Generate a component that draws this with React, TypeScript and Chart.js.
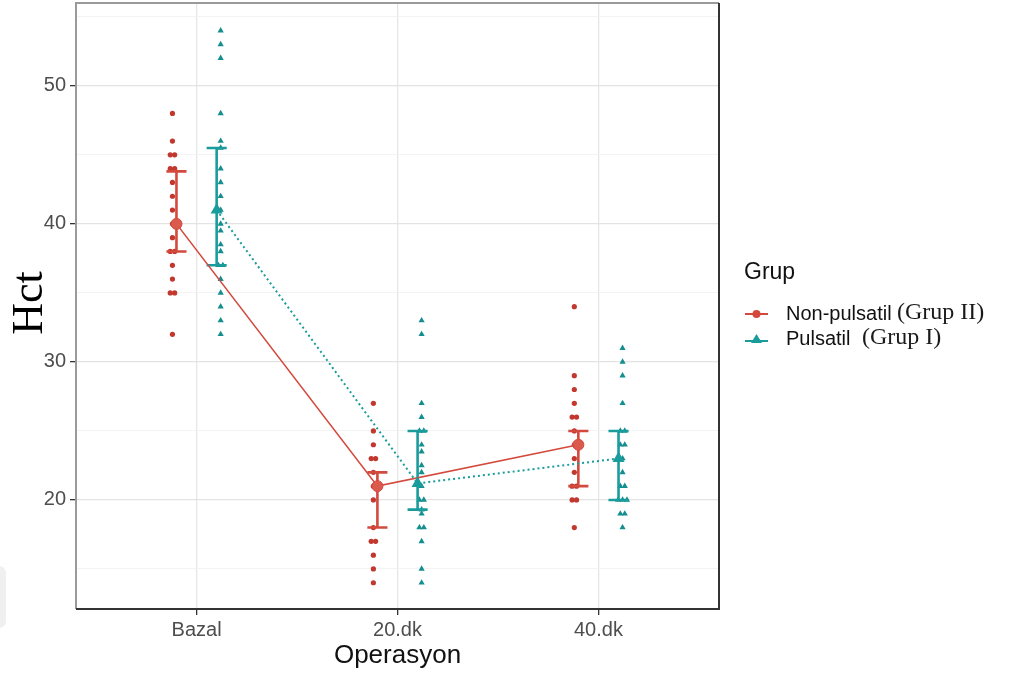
import React, { useEffect, useRef } from "react";
import { Chart, registerables } from "chart.js";

Chart.register(...registerables);

const categories = ["Bazal", "20.dk", "40.dk"];
const yTicks = [15, 20, 25, 30, 35, 40, 45, 50, 55];

// Non-pulsatil (Grup II) individual values
const nonPulsatilBazal = [48, 46, 45, 45, 44, 44, 43, 42, 41, 40, 39, 38, 38, 37, 36, 35, 35, 32];
const nonPulsatil20 = [27, 25, 24, 23, 23, 22, 21, 20, 18, 17, 17, 16, 15, 14];
const nonPulsatil40 = [34, 29, 28, 27, 26, 26, 25, 24, 23, 22, 21, 21, 20, 20, 18];

// Pulsatil (Grup I) individual values
const pulsatilBazal = [54, 53, 52, 48, 46, 45.5, 44, 43, 42, 41, 40, 39.5, 38.5, 38, 37, 37, 36, 35, 34, 33, 32];
const pulsatil20 = [33, 32, 27, 26, 25, 25, 24, 23.5, 22.5, 22, 21, 20, 20, 19.3, 19, 18, 18, 17, 15, 14];
const pulsatil40 = [31, 30, 29, 27, 25, 25, 24, 24, 23, 22, 21, 21, 20, 20, 20, 19, 19, 18];

// Summary (centre and error bar limits)
const nonPulsatilMean = [40, 21, 24];
const nonPulsatilLow = [38, 18, 21];
const nonPulsatilHigh = [43.8, 22, 25];
const pulsatilMean = [41, 21.2, 23];
const pulsatilLow = [37, 19.3, 20];
const pulsatilHigh = [45.5, 25, 25];

const RED_RAW = "#C2372E";
const RED = "#D4493D";
const TEAL_RAW = "#148E8F";
const TEAL = "#1A9C9D";

// canvas is shifted up by DY px inside the page
const DY = 4;

function rawPoints(groups: number[][], offset: number) {
  const pts: { x: number; y: number }[] = [];
  groups.forEach((vals, i) => {
    const counts: Record<string, number> = {};
    vals.forEach((v) => (counts[v] = (counts[v] || 0) + 1));
    const seen: Record<string, number> = {};
    vals.forEach((v) => {
      const n = counts[v];
      const k = seen[v] || 0;
      seen[v] = k + 1;
      const spread = (k - (n - 1) / 2) * 0.022;
      pts.push({ x: i + offset + spread, y: v });
    });
  });
  return pts;
}

function errorBarPoints(low: number[], high: number[], offset: number, cap: number) {
  const pts: { x: number; y: number | null }[] = [];
  low.forEach((lo, i) => {
    const x = i + offset;
    const hi = high[i];
    pts.push({ x, y: lo }, { x, y: hi }, { x, y: null });
    pts.push({ x: x - cap, y: hi }, { x: x + cap, y: hi }, { x, y: null });
    pts.push({ x: x - cap, y: lo }, { x: x + cap, y: lo }, { x, y: null });
  });
  return pts;
}

function meanPoints(means: number[], offset: number) {
  return means.map((m, i) => ({ x: i + offset, y: m }));
}

const decorPlugin = {
  id: "decor",
  beforeDraw(chart: any) {
    const ctx = chart.ctx;
    ctx.save();
    ctx.fillStyle = "#F0F0F0";
    ctx.beginPath();
    if (ctx.roundRect) ctx.roundRect(-10, 566 + DY, 16, 62, 7);
    else ctx.rect(-10, 566 + DY, 16, 62);
    ctx.fill();
    ctx.restore();
  },
  afterDraw(chart: any) {
    const ctx = chart.ctx;
    const a = chart.chartArea;
    ctx.save();
    // panel border
    ctx.lineWidth = 2;
    ctx.strokeStyle = "#9A9A9A";
    ctx.beginPath();
    ctx.moveTo(a.left, a.bottom);
    ctx.lineTo(a.left, a.top);
    ctx.lineTo(a.right, a.top);
    ctx.stroke();
    ctx.strokeStyle = "#333333";
    ctx.beginPath();
    ctx.moveTo(a.right, a.top);
    ctx.lineTo(a.right, a.bottom);
    ctx.lineTo(a.left, a.bottom);
    ctx.stroke();

    // axis titles
    ctx.fillStyle = "#111111";
    ctx.font = '26px "Liberation Sans", Arial, sans-serif';
    ctx.textAlign = "center";
    ctx.textBaseline = "middle";
    ctx.fillText("Operasyon", (a.left + a.right) / 2, 656 + DY);

    ctx.save();
    ctx.translate(30, 303 + DY);
    ctx.rotate(-Math.PI / 2);
    ctx.font = '44px "Liberation Serif", "Times New Roman", serif';
    ctx.fillStyle = "#000000";
    ctx.fillText("Hct", 0, 0);
    ctx.restore();

    // legend
    ctx.textAlign = "left";
    ctx.fillStyle = "#111111";
    ctx.font = '23px "Liberation Sans", Arial, sans-serif';
    ctx.fillText("Grup", 744, 273 + DY);

    // key 1
    const y1 = 314 + DY;
    ctx.strokeStyle = RED;
    ctx.lineWidth = 2;
    ctx.beginPath();
    ctx.moveTo(745, y1);
    ctx.lineTo(768, y1);
    ctx.stroke();
    ctx.fillStyle = RED;
    ctx.beginPath();
    ctx.arc(756.5, y1, 4, 0, Math.PI * 2);
    ctx.fill();
    // key 2
    const y2 = 339 + DY;
    ctx.strokeStyle = TEAL;
    ctx.beginPath();
    ctx.moveTo(745, y2 + 2);
    ctx.lineTo(768, y2 + 2);
    ctx.stroke();
    ctx.fillStyle = TEAL;
    ctx.beginPath();
    ctx.moveTo(756.5, y2 - 5);
    ctx.lineTo(762, y2 + 4);
    ctx.lineTo(751, y2 + 4);
    ctx.closePath();
    ctx.fill();

    ctx.fillStyle = "#111111";
    ctx.font = '20px "Liberation Sans", Arial, sans-serif';
    ctx.fillText("Non-pulsatil", 786, y1);
    ctx.fillText("Pulsatil", 786, y2);
    ctx.fillStyle = "#1A1A1A";
    ctx.font = '24px "Liberation Serif", "Times New Roman", serif';
    ctx.fillText("(Grup II)", 897, y1 - 1);
    ctx.fillText("(Grup I)", 862, y2 - 1);
    ctx.restore();
  },
};

export default function App() {
  const ref = useRef<HTMLCanvasElement | null>(null);

  useEffect(() => {
    document.body.style.margin = "0";
    const canvas = ref.current;
    if (!canvas) return;

    const chart = new Chart(canvas, {
      type: "scatter",
      data: {
        datasets: [
          {
            label: "Non-pulsatil raw",
            data: rawPoints([nonPulsatilBazal, nonPulsatil20, nonPulsatil40], -0.12),
            pointStyle: "circle",
            pointRadius: 2.6,
            pointBackgroundColor: RED_RAW,
            pointBorderWidth: 0,
            order: 6,
          },
          {
            label: "Pulsatil raw",
            data: rawPoints([pulsatilBazal, pulsatil20, pulsatil40], 0.12),
            pointStyle: "triangle",
            pointRadius: 3.6,
            pointBackgroundColor: TEAL_RAW,
            pointBorderWidth: 0,
            order: 5,
          },
          {
            label: "Non-pulsatil error",
            data: errorBarPoints(nonPulsatilLow, nonPulsatilHigh, -0.1, 0.05),
            showLine: true,
            spanGaps: false,
            borderColor: RED,
            borderWidth: 2.6,
            pointRadius: 0,
            order: 4,
          },
          {
            label: "Pulsatil error",
            data: errorBarPoints(pulsatilLow, pulsatilHigh, 0.1, 0.05),
            showLine: true,
            spanGaps: false,
            borderColor: TEAL,
            borderWidth: 2.6,
            pointRadius: 0,
            order: 3,
          },
          {
            label: "Non-pulsatil mean",
            data: meanPoints(nonPulsatilMean, -0.1),
            showLine: true,
            borderColor: RED,
            borderWidth: 1.6,
            pointStyle: "circle",
            pointRadius: 5.5,
            pointBackgroundColor: "#DA5A4D",
            pointBorderColor: RED,
            pointBorderWidth: 1,
            order: 2,
          },
          {
            label: "Pulsatil mean",
            data: meanPoints(pulsatilMean, 0.1),
            showLine: true,
            borderColor: TEAL,
            borderWidth: 2,
            borderDash: [2, 3],
            pointStyle: "triangle",
            pointRadius: 7,
            pointBackgroundColor: TEAL,
            pointBorderColor: TEAL,
            pointBorderWidth: 0,
            order: 1,
          },
        ],
      },
      options: {
        animation: false,
        responsive: false,
        devicePixelRatio: 1,
        events: [],
        layout: { padding: { top: 3, right: 294, left: 0, bottom: 0 } },
        plugins: {
          legend: { display: false },
          tooltip: { enabled: false },
          title: { display: false },
        },
        scales: {
          x: {
            type: "linear",
            min: -0.6,
            max: 2.6,
            afterFit: (s: any) => {
              s.height = 66;
              s.paddingLeft = 0;
              s.paddingRight = 0;
            },
            afterBuildTicks: (s: any) => {
              s.ticks = categories.map((_, i) => ({ value: i }));
            },
            ticks: {
              autoSkip: false,
              maxRotation: 0,
              padding: 3,
              color: "#4D4D4D",
              font: { family: '"Liberation Sans", Arial, sans-serif', size: 20 },
              callback: (v: any) => categories[Math.round(Number(v))] ?? "",
            },
            grid: {
              color: "#E6E6E6",
              lineWidth: 1.3,
              tickColor: "#333333",
              tickLength: 6,
            },
            border: { display: false },
          },
          y: {
            type: "linear",
            min: 12.1,
            max: 56.0,
            afterFit: (s: any) => {
              s.width = 76;
              s.paddingTop = 0;
              s.paddingBottom = 0;
            },
            afterBuildTicks: (s: any) => {
              s.ticks = yTicks.map((v) => ({ value: v }));
            },
            ticks: {
              autoSkip: false,
              padding: 4,
              color: "#4D4D4D",
              font: { family: '"Liberation Sans", Arial, sans-serif', size: 20 },
              callback: (v: any) => (Number(v) % 10 === 0 ? String(v) : ""),
            },
            grid: {
              color: (c: any) => (c.tick && c.tick.value % 10 === 0 ? "#E3E3E3" : "#F2F2F2"),
              lineWidth: (c: any) => (c.tick && c.tick.value % 10 === 0 ? 1.3 : 0.9),
              tickColor: (c: any) =>
                c.tick && c.tick.value % 10 === 0 ? "#333333" : "rgba(0,0,0,0)",
              tickLength: 6,
            },
            border: { display: false },
          },
        },
      },
      plugins: [decorPlugin],
    } as any);

    return () => chart.destroy();
  }, []);

  return (
    <div
      style={{
        width: 1013,
        height: 675,
        position: "relative",
        overflow: "hidden",
        background: "#fff",
      }}
    >
      <canvas
        ref={ref}
        width={1013}
        height={675 + DY}
        style={{ display: "block", position: "absolute", left: 0, top: -DY }}
      />
    </div>
  );
}
